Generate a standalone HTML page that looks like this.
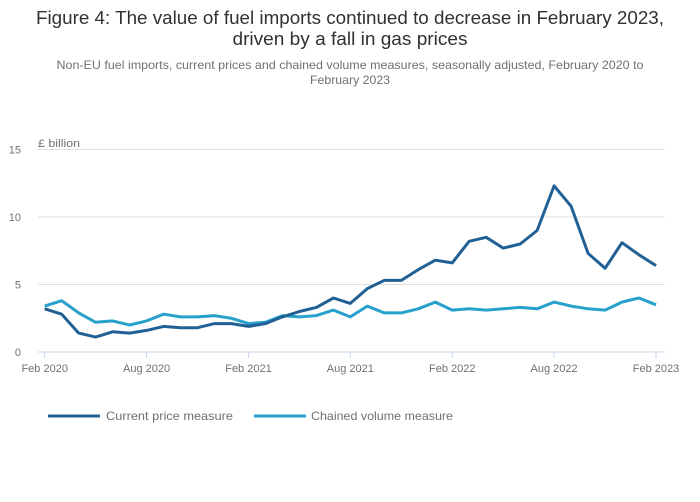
<!DOCTYPE html>
<html><head><meta charset="utf-8"><style>
body{margin:0;background:#fff;font-family:"Liberation Sans",sans-serif;}
#wrap{position:relative;width:700px;height:502px;overflow:hidden}
</style></head><body>
<div id="wrap">
<svg id="chart" width="700" height="502" xmlns="http://www.w3.org/2000/svg">
<text x="350" y="24" text-anchor="middle" font-size="18" fill="#323132" textLength="628" lengthAdjust="spacingAndGlyphs">Figure 4: The value of fuel imports continued to decrease in February 2023,</text>
<text x="350" y="45" text-anchor="middle" font-size="18" fill="#323132" textLength="235" lengthAdjust="spacingAndGlyphs">driven by a fall in gas prices</text>
<text x="350" y="69" text-anchor="middle" font-size="12" fill="#707071" textLength="587" lengthAdjust="spacingAndGlyphs">Non-EU fuel imports, current prices and chained volume measures, seasonally adjusted, February 2020 to</text>
<text x="350" y="84" text-anchor="middle" font-size="12" fill="#707071" textLength="80" lengthAdjust="spacingAndGlyphs">February 2023</text>
<text x="38" y="147" font-size="11" fill="#707071" textLength="42" lengthAdjust="spacingAndGlyphs">£ billion</text>
<g id="grid"></g><g id="axes"></g><g id="series"></g>
<g>
<line x1="48" y1="416" x2="100" y2="416" stroke="#206095" stroke-width="3"/>
<text x="106" y="420" font-size="12" fill="#707071" textLength="127" lengthAdjust="spacingAndGlyphs">Current price measure</text>
<line x1="254" y1="416" x2="306" y2="416" stroke="#27a0cc" stroke-width="3"/>
<text x="311" y="420" font-size="12" fill="#707071" textLength="142" lengthAdjust="spacingAndGlyphs">Chained volume measure</text>
</g>
</svg>
</div>
<script>
const yTicks=[0,5,10,15];
const xTickLabels=["Feb 2020","Aug 2020","Feb 2021","Aug 2021","Feb 2022","Aug 2022","Feb 2023"];
const xTickIdx=[0,6,12,18,24,30,36];
const currentPrice=[3.2,2.8,1.4,1.1,1.5,1.4,1.6,1.9,1.8,1.8,2.1,2.1,1.9,2.1,2.6,3.0,3.3,4.0,3.6,4.7,5.3,5.3,6.1,6.8,6.6,8.2,8.5,7.7,8.0,9.0,12.3,10.8,7.3,6.2,8.1,7.2,6.4];
const chainedVolume=[3.4,3.8,2.9,2.2,2.3,2.0,2.3,2.8,2.6,2.6,2.7,2.5,2.1,2.2,2.7,2.6,2.7,3.1,2.6,3.4,2.9,2.9,3.2,3.7,3.1,3.2,3.1,3.2,3.3,3.2,3.7,3.4,3.2,3.1,3.7,4.0,3.5];
const NS="http://www.w3.org/2000/svg";
const x0=44.7,x1=656,y0=352,y15=149.5;
function xs(i){return x0+(x1-x0)*i/36;}
function ys(v){return y0-(y0-y15)*v/15;}
function mk(t,a,p){const e=document.createElementNS(NS,t);for(const k in a)e.setAttribute(k,a[k]);p.appendChild(e);return e;}
const grid=document.getElementById('grid'),axes=document.getElementById('axes'),ser=document.getElementById('series');
yTicks.forEach(v=>{
  if(v>0){const l=mk('line',{x1:38,x2:665,y1:ys(v),y2:ys(v),stroke:'#e0e0e0','stroke-width':1},grid);
  
  }
  const t=mk('text',{x:21,y:ys(v)+4,'font-size':11,fill:'#707071','text-anchor':'end'},axes);
  t.textContent=v;
  
  
});
const base=mk('line',{x1:38,x2:665,y1:y0,y2:y0,stroke:'#c8d7ea','stroke-width':1},axes);


xTickIdx.forEach((idx,k)=>{
  const tk=mk('line',{x1:xs(idx),x2:xs(idx),y1:y0,y2:y0+6,stroke:'#c8d7ea'},axes);
  
  
  const t=mk('text',{x:xs(idx),y:y0+20,'font-size':11,fill:'#707071','text-anchor':'middle'},axes);
  t.textContent=xTickLabels[k];
  
  
});
function line(data,color,name){
  const d=data.map((v,i)=>(i?'L':'M')+xs(i).toFixed(1)+' '+ys(v).toFixed(1)).join(' ');
  const p=mk('path',{d:d,fill:'none',stroke:color,'stroke-width':3,'stroke-linejoin':'round'},ser);
  
  
}
line(chainedVolume,'#27a0cc','chained-volume-line');
line(currentPrice,'#206095','current-price-line');
</script>
</body></html>
